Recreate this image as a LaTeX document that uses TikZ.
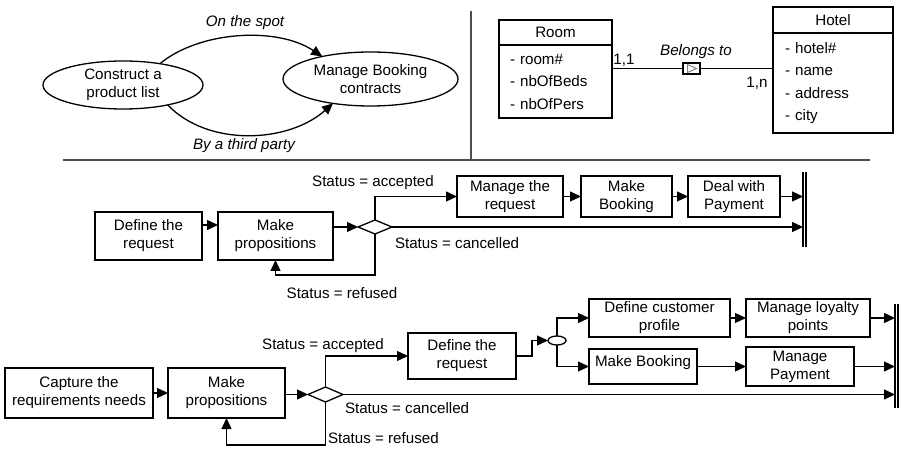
\documentclass[tikz,border=0pt]{standalone}
\usepackage{fontspec}
\setmainfont{Liberation Sans}
\usetikzlibrary{shapes.geometric,arrows.meta,calc}
\begin{document}
\begin{tikzpicture}[x=1bp,y=-1bp,
  font=\fontsize{15.2}{18}\selectfont,
  line width=1.3bp,
  box/.style={draw, rectangle, inner sep=0pt, outer sep=0pt, align=center},
  oval/.style={draw, ellipse, inner sep=0pt, outer sep=0pt, align=center},
  attr/.style={draw, rectangle, inner ysep=0pt, outer sep=0pt, align=left, font=\fontsize{15.2}{22.5}\selectfont},
  arr/.style={-{Triangle[length=11bp,width=10bp]}},
  lbl/.style={inner sep=0pt, outer sep=0pt},
  itl/.style={inner sep=0pt, outer sep=0pt, font=\fontsize{15.2}{18}\selectfont\itshape},
  sep/.style={draw=black!70, line width=1.5bp},
  endbar/.style={rectangle, inner sep=0pt, outer sep=0pt, minimum width=3bp},
  gate/.style={draw, diamond, inner sep=0pt, outer sep=0pt}]
\useasboundingbox (0,0) rectangle (899,450);

% ---------- top left ----------
\node[oval, minimum width=160bp, minimum height=48bp] (e1) at (123,85) {Construct a\\product list};
\node[oval, minimum width=175bp, minimum height=54bp] (e2) at (370.5,79) {Manage Booking\\contracts};
\draw[arr] (e1.30) .. controls +(40,-33) and +(-45,-30) .. (e2.155);
\draw[arr] (e1.336) .. controls +(40,42) and +(-45,40) .. (e2.213);
\node[itl] (l1) at (245,23) {On the spot};
\node[itl] (l2) at (244,146) {By a third party};

% ---------- separators ----------
\draw[sep] (471,11) -- (471,160);
\draw[sep] (63,160) -- (870,160);

% ---------- top right ----------
\node[box, minimum width=113bp, minimum height=25bp] (roomh) at (555.5,32.5) {Room};
\node[attr, inner xsep=11bp, text width=91bp, minimum height=73bp] (roomb) at (555.5,81.5) {- room\#\\- nbOfBeds\\- nbOfPers};
\node[box, minimum width=120bp, minimum height=26bp] (hotelh) at (833,20) {Hotel};
\node[attr, inner xsep=12bp, text width=96bp, minimum height=100bp] (hotelb) at (833,83) {- hotel\#\\- name\\- address\\- city};
\node[draw, rectangle, inner sep=0pt, outer sep=0pt, minimum width=17bp, minimum height=11bp] (assoc) at (691.5,68.5) {};
\draw[black!50, line width=0.9bp] ($(assoc.center)+(-4,-4)$) -- ($(assoc.center)+(5,0)$) -- ($(assoc.center)+(-4,4)$) -- cycle;
\draw (roomb.east |- assoc.west) -- (assoc.west);
\draw (assoc.east) -- (hotelb.west |- assoc.east);
\node[lbl] (c11) at (624,60) {1,1};
\node[itl] (bel) at (696,52) {Belongs to};
\node[lbl] (c1n) at (757,83) {1,n};

% ---------- middle process ----------
\node[box, minimum width=107bp, minimum height=48bp] (d1) at (148.5,236) {Define the\\request};
\node[box, minimum width=115bp, minimum height=48bp] (mp1) at (275.5,236) {Make\\propositions};
\node[gate, minimum width=34bp, minimum height=14bp] (dia1) at (375,227) {};
\node[box, minimum width=106bp, minimum height=41bp] (mr) at (510,196.5) {Manage the\\request};
\node[box, minimum width=91bp, minimum height=41bp] (mb) at (626.5,196.5) {Make\\Booking};
\node[box, minimum width=92bp, minimum height=41bp] (dp) at (734,196.5) {Deal with\\Payment};
\node[endbar, minimum height=75bp] (bar1) at (804.5,209.5) {};
\draw[line width=1.5bp] (bar1.north west) -- (bar1.south west) (bar1.north east) -- (bar1.south east);

\draw[arr] ([yshift=11bp]d1.east) -- ([yshift=11bp]mp1.west);
\draw[arr] (mp1.east |- dia1.west) -- (dia1.west);
\draw[arr] (dia1.north) |- (mr.west);
\draw[arr] (mr.east) -- (mb.west);
\draw[arr] (mb.east) -- (dp.west);
\draw[arr] (dp.east) -- (bar1.west |- dp.east);
\draw[arr] (dia1.east) -- (bar1.west |- dia1.east);
\draw[arr] (dia1.south) -- ++(0,41) -| (mp1.south);
\node[lbl] (sa1) at (373,183) {Status = accepted};
\node[lbl, anchor=west] (sc1) at (395,243) {Status = cancelled};
\node[lbl] (sr1) at (342,293) {Status = refused};

% ---------- bottom process ----------
\node[box, minimum width=148bp, minimum height=50bp] (cap) at (79,393) {Capture the\\requirements needs};
\node[box, minimum width=117bp, minimum height=50bp] (mp2) at (226.5,393) {Make\\propositions};
\node[gate, minimum width=35bp, minimum height=15bp] (dia2) at (325.5,394.5) {};
\node[box, minimum width=108bp, minimum height=46bp] (dr) at (462,356) {Define the\\request};
\node[oval, minimum width=18bp, minimum height=9bp] (circ) at (557,340.5) {};
\node[box, minimum width=141bp, minimum height=38bp] (dcp) at (659.5,318) {Define customer\\profile};
\node[box, minimum width=124bp, minimum height=38bp] (mlp) at (808,318) {Manage loyalty\\points};
\node[box, minimum width=108bp, minimum height=35bp, text height=12bp, text depth=12bp] (mbk) at (643,366.5) {Make Booking};
\node[box, minimum width=108bp, minimum height=39bp] (mpay) at (800,366.5) {Manage\\Payment};
\node[endbar, minimum height=104bp] (bar2) at (896.5,356) {};
\draw[line width=1.5bp] (bar2.north west) -- (bar2.south west) (bar2.north east) -- (bar2.south east);

\draw[arr] (cap.east) -- (mp2.west);
\draw[arr] (mp2.east |- dia2.west) -- (dia2.west);
\draw[arr] (dia2.north) |- (dr.west);
\draw[arr] (dia2.south) -- ++(0,43) -| (mp2.south);
\draw[arr] (dia2.east) -- (bar2.west |- dia2.east);
\draw[arr] (dr.east) -- ++(16,0) |- (circ.west);
\draw[arr] (circ.north) |- (dcp.west);
\draw[arr] (circ.south) |- (mbk.west);
\draw[arr] (dcp.east) -- (mlp.west);
\draw[arr] (mbk.east) -- (mpay.west);
\draw[arr] (mlp.east) -- (bar2.west |- mlp.east);
\draw[arr] (mpay.east) -- (bar2.west |- mpay.east);
\node[lbl] (sa2) at (323,346) {Status = accepted};
\node[lbl, anchor=west] (sc2) at (345,408) {Status = cancelled};
\node[lbl, anchor=west] (sr2) at (328,438) {Status = refused};
\end{tikzpicture}
\end{document}
